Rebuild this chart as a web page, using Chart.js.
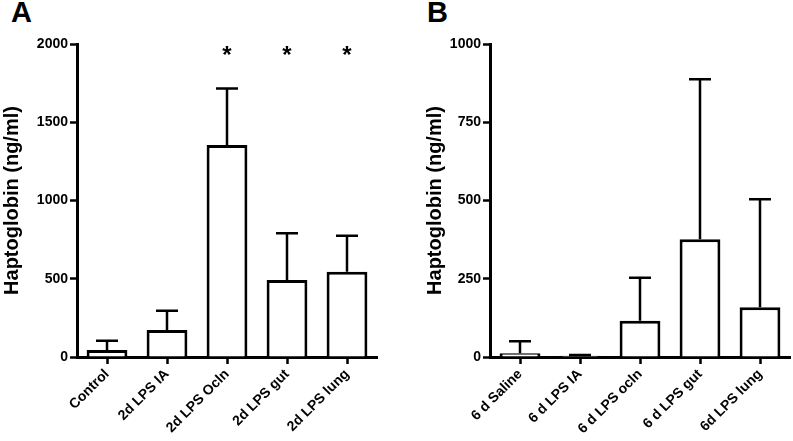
<!DOCTYPE html>
<html>
<head>
<meta charset="utf-8">
<script src="https://cdn.jsdelivr.net/npm/chart.js@4.4.1/dist/chart.umd.min.js"></script>
<style>
  html, body { margin: 0; padding: 0; background: #fff; }
  body { width: 793px; height: 441px; position: relative; overflow: hidden; }
  canvas { position: absolute; top: 0; }
  .panel-tag { position: absolute; top: -4px; font: bold 29px Arial, "Liberation Sans", sans-serif; color: #000; }
</style>
</head>
<body>
<div class="panel-tag" style="left:11px">A</div>
<div class="panel-tag" style="left:427px">B</div>
<canvas id="chartA" width="400" height="441" style="left:0"></canvas>
<canvas id="chartB" width="393" height="441" style="left:400px"></canvas>
<script>
// ---- data ----
const catsA = ['Control', '2d LPS IA', '2d LPS Ocln', '2d LPS gut', '2d LPS lung'];
const meanA = [45, 172, 1355, 492, 545];
const errTopA = [104, 296, 1715, 790, 775];
const starsA = ['', '', '*', '*', '*'];
const starLevelA = 1955;
const ticksA = { max: 2000, step: 500 };

const catsB = ['6 d Saline', '6 d LPS IA', '6 d LPS ocln', '6 d LPS gut', '6d LPS lung'];
const meanB = [12, 4, 116, 376, 159];
const errTopB = [50, 6, 253, 887, 504];
const starsB = ['', '', '', '', ''];
const starLevelB = 980;
const ticksB = { max: 1000, step: 250 };

const FONT = 'Arial, "Liberation Sans", sans-serif';

// error bars + significance stars, drawn from the scales
const errorBars = {
  id: 'errorBars',
  afterDatasetsDraw(chart, args, opts) {
    const { ctx } = chart;
    const y = chart.scales.y;
    const meta = chart.getDatasetMeta(0);
    ctx.save();
    ctx.strokeStyle = '#000';
    ctx.lineWidth = 2.5;
    meta.data.forEach((bar, i) => {
      const base = y.getPixelForValue(opts.mean[i]);
      const top = y.getPixelForValue(opts.upper[i]);
      ctx.beginPath();
      ctx.moveTo(bar.x, base);
      ctx.lineTo(bar.x, top);
      ctx.moveTo(bar.x - 11, top);
      ctx.lineTo(bar.x + 11, top);
      ctx.stroke();
      if (opts.stars[i]) {
        ctx.fillStyle = '#000';
        ctx.font = 'bold 24px ' + FONT;
        ctx.textAlign = 'center';
        ctx.textBaseline = 'middle';
        ctx.fillText(opts.stars[i], bar.x, y.getPixelForValue(opts.starLevel) + 5);
      }
    });
    ctx.restore();
  }
};

function makePanel(id, cats, mean, upper, stars, starLevel, tk, yWidth, padLeft, padRight) {
  return new Chart(document.getElementById(id), {
    type: 'bar',
    data: {
      labels: cats,
      datasets: [{
        data: mean,
        backgroundColor: '#fff',
        borderColor: '#000',
        borderWidth: 3,
        categoryPercentage: 1,
        barPercentage: 0.68,
      }]
    },
    options: {
      responsive: false,
      animation: false,
      devicePixelRatio: 1,
      layout: { padding: { top: 44, left: padLeft, right: padRight, bottom: 0 } },
      plugins: {
        legend: { display: false },
        tooltip: { enabled: false },
        errorBars: { mean, upper, stars, starLevel },
      },
      scales: {
        x: {
          grid: { offset: false, drawOnChartArea: false, drawTicks: true, tickLength: 7, tickWidth: 2.5, tickColor: '#000' },
          border: { color: '#000', width: 3 },
          ticks: { color: '#000', font: { family: FONT, weight: 'bold', size: 14 }, minRotation: 45, maxRotation: 45, padding: 2 },
          afterFit: s => { s.height = 84; },
        },
        y: {
          min: 0,
          max: tk.max,
          grid: { drawOnChartArea: false, drawTicks: true, tickLength: 7, tickWidth: 2.5, tickColor: '#000' },
          border: { color: '#000', width: 3 },
          ticks: { stepSize: tk.step, color: '#000', padding: 2, font: { family: FONT, weight: 'bold', size: 14 }, callback: v => String(v) },
          title: { display: true, text: 'Haptoglobin (ng/ml)', color: '#000', font: { family: FONT, weight: 'bold', size: 20 }, padding: { top: 0, bottom: 0 } },
          afterFit: s => { s.width = yWidth; },
        }
      }
    },
    plugins: [errorBars]
  });
}

makePanel('chartA', catsA, meanA, errTopA, starsA, starLevelA, ticksA, 77, 0, 23);
makePanel('chartB', catsB, meanB, errTopB, starsB, starLevelB, ticksB, 67, 23, 3);
</script>
</body>
</html>
